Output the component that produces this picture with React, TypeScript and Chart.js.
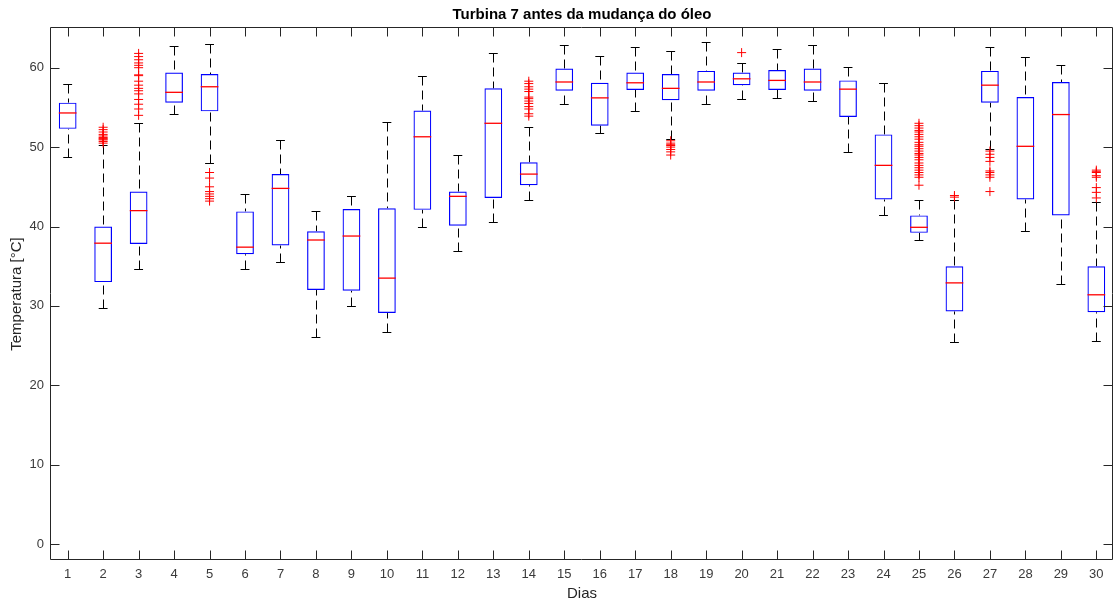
import React, { useEffect, useRef } from 'react';
import { Chart, registerables } from 'chart.js';

Chart.register(...registerables);

const days = [1, 2, 3, 4, 5, 6, 7, 8, 9, 10, 11, 12, 13, 14, 15, 16, 17, 18, 19, 20, 21, 22, 23, 24, 25, 26, 27, 28, 29, 30];

const whiskerLow = [48.7, 29.7, 34.6, 54.2, 48.0, 34.6, 35.5, 26.1, 30.0, 26.7, 40.0, 36.9, 40.6, 43.4, 55.4, 51.8, 54.6, 51.0, 55.4, 56.1, 56.2, 55.8, 49.4, 41.4, 38.3, 25.4, 49.8, 39.4, 32.7, 25.6];
const q1 = [52.3, 33.0, 37.8, 55.6, 54.5, 36.5, 37.6, 32.0, 31.9, 29.1, 42.1, 40.1, 43.6, 45.2, 57.1, 52.7, 57.2, 55.9, 57.1, 57.8, 57.2, 57.1, 53.8, 43.4, 39.2, 29.3, 55.6, 43.4, 41.4, 29.2];
const median = [54.3, 37.9, 42.0, 56.9, 57.6, 37.4, 44.8, 38.3, 38.8, 33.5, 51.3, 43.8, 53.0, 46.6, 58.2, 56.2, 58.1, 57.4, 58.2, 58.6, 58.4, 58.2, 57.3, 47.7, 39.9, 32.9, 57.8, 50.1, 54.1, 31.4];
const q3 = [55.6, 40.0, 44.4, 59.4, 59.2, 41.9, 46.6, 39.4, 42.2, 42.3, 54.6, 44.4, 57.4, 48.1, 59.9, 58.1, 59.4, 59.2, 59.6, 59.4, 59.7, 59.9, 58.4, 51.6, 41.4, 35.0, 59.6, 56.3, 58.2, 35.0];
const whiskerHigh = [58.0, 50.3, 53.0, 62.7, 63.0, 44.1, 50.9, 41.9, 43.8, 53.1, 58.9, 49.0, 61.9, 52.5, 62.8, 61.5, 62.6, 62.1, 63.2, 60.6, 62.3, 62.8, 60.1, 58.1, 43.4, 43.4, 62.6, 61.3, 60.3, 43.1];

const outliers: number[][] = [
  [],
  [50.5, 50.7, 50.9, 51.0, 51.1, 51.2, 51.4, 51.6, 51.9, 52.2, 52.5],
  [54.0, 54.8, 55.4, 56.0, 56.7, 57.1, 57.4, 57.8, 58.3, 59.0, 59.1, 60.0, 60.3, 60.6, 61.0, 61.4, 61.8],
  [],
  [43.2, 43.5, 43.8, 44.1, 44.4, 45.0, 46.1, 46.8],
  [],
  [],
  [],
  [],
  [],
  [],
  [],
  [],
  [53.9, 54.2, 54.8, 55.1, 55.5, 55.8, 56.1, 56.3, 57.0, 57.3, 57.6, 58.0, 58.3],
  [],
  [],
  [],
  [49.0, 49.4, 49.7, 50.0, 50.2, 50.3, 50.5, 50.8],
  [],
  [61.9],
  [],
  [],
  [],
  [],
  [45.2, 46.2, 46.5, 46.8, 47.1, 47.4, 47.7, 48.0, 48.4, 48.7, 49.0, 49.2, 49.5, 49.8, 50.1, 50.3, 50.6, 51.0, 51.3, 51.6, 51.9, 52.1, 52.4, 52.7, 53.0],
  [43.7, 43.9],
  [44.4, 46.2, 46.5, 46.8, 47.0, 48.2, 48.7, 49.1, 49.5],
  [],
  [],
  [43.6, 44.3, 44.9, 46.2, 46.4, 46.8, 46.9, 47.1],
];

const yTicks = [0, 10, 20, 30, 40, 50, 60];
const xTicks = days;

const chartTitle = 'Turbina 7 antes da mudança do óleo';
const xTitle = 'Dias';
const yTitle = 'Temperatura [°C]';

const FONT = "'Liberation Sans', Arial, Helvetica, sans-serif";
const AXIS_COLOR = '#262626';
const LABEL_COLOR = '#3a3a3a';

const boxPlugin = {
  id: 'boxExtras',
  beforeDatasetsDraw(chart: any) {
    const { ctx } = chart;
    const x = chart.scales.x;
    const y = chart.scales.y;
    ctx.save();
    ctx.strokeStyle = '#000000';
    ctx.lineWidth = 1;
    days.forEach((d, i) => {
      const px = Math.round(x.getPixelForValue(d)) + 0.5;
      const yq1 = y.getPixelForValue(q1[i]);
      const yq3 = y.getPixelForValue(q3[i]);
      const ylo = Math.round(y.getPixelForValue(whiskerLow[i])) + 0.5;
      const yhi = Math.round(y.getPixelForValue(whiskerHigh[i])) + 0.5;
      ctx.setLineDash([9, 5]);
      ctx.beginPath();
      ctx.moveTo(px, yhi);
      ctx.lineTo(px, yq3);
      ctx.moveTo(px, ylo);
      ctx.lineTo(px, yq1);
      ctx.stroke();
      ctx.setLineDash([]);
      const xl = x.getPixelForValue(d - 0.125);
      const xr = x.getPixelForValue(d + 0.125);
      ctx.beginPath();
      ctx.moveTo(xl, yhi);
      ctx.lineTo(xr, yhi);
      ctx.moveTo(xl, ylo);
      ctx.lineTo(xr, ylo);
      ctx.stroke();
    });
    ctx.restore();
  },
  afterDatasetsDraw(chart: any) {
    const { ctx } = chart;
    const x = chart.scales.x;
    const y = chart.scales.y;
    ctx.save();
    ctx.strokeStyle = '#ff0000';
    ctx.lineWidth = 1.3;
    days.forEach((d, i) => {
      const ym = y.getPixelForValue(median[i]);
      ctx.beginPath();
      ctx.moveTo(x.getPixelForValue(d - 0.25), ym);
      ctx.lineTo(x.getPixelForValue(d + 0.25), ym);
      ctx.stroke();
    });
    ctx.restore();
  },
  afterDraw(chart: any) {
    const { ctx, chartArea } = chart;
    const x = chart.scales.x;
    const y = chart.scales.y;
    const L = Math.floor(chartArea.left) - 0.5;
    const R = Math.floor(chartArea.right) - 0.5;
    const T = Math.floor(chartArea.top) - 0.5;
    const B = Math.floor(chartArea.bottom) - 0.5;
    const tl = 9;
    ctx.save();
    ctx.strokeStyle = AXIS_COLOR;
    ctx.lineWidth = 1;
    ctx.beginPath();
    ctx.rect(L, T, R - L, B - T);
    yTicks.forEach((v) => {
      const py = Math.round(y.getPixelForValue(v)) + 0.5;
      ctx.moveTo(L, py);
      ctx.lineTo(L + tl, py);
      ctx.moveTo(R, py);
      ctx.lineTo(R - tl, py);
    });
    xTicks.forEach((v) => {
      const px = Math.round(x.getPixelForValue(v)) + 0.5;
      ctx.moveTo(px, B);
      ctx.lineTo(px, B - tl);
      ctx.moveTo(px, T);
      ctx.lineTo(px, T + tl);
    });
    ctx.stroke();
    ctx.restore();
  },
};

export default function App() {
  const canvasRef = useRef<HTMLCanvasElement | null>(null);

  useEffect(() => {
    const canvas = canvasRef.current;
    if (!canvas) return;

    const boxData = days.map((d, i) => ({ x: d, y: [q1[i], q3[i]] }));
    const outlierData: { x: number; y: number }[] = [];
    outliers.forEach((list, i) => {
      list.forEach((v) => outlierData.push({ x: days[i], y: v }));
    });

    const chart = new Chart(canvas, {
      type: 'bar',
      data: {
        datasets: [
          {
            type: 'bar',
            data: boxData as any,
            backgroundColor: 'rgba(0,0,0,0)',
            borderColor: '#0000ff',
            borderWidth: 1.2,
            borderSkipped: false,
            categoryPercentage: 1,
            barPercentage: 0.5,
            grouped: false,
          } as any,
          {
            type: 'scatter',
            data: outlierData as any,
            pointStyle: 'cross',
            pointRadius: 4.5,
            pointBorderColor: '#ff0000',
            pointBackgroundColor: '#ff0000',
            pointBorderWidth: 1,
            showLine: false,
            clip: false,
          } as any,
        ],
      },
      options: {
        responsive: false,
        animation: false,
        events: [],
        devicePixelRatio: 1,
        layout: { autoPadding: false, padding: { left: 0, right: 1, top: 0, bottom: 0 } },
        plugins: {
          legend: { display: false },
          tooltip: { enabled: false },
          title: {
            display: true,
            fullSize: false,
            text: chartTitle,
            color: '#000000',
            font: { family: FONT, size: 15, weight: 'bold' },
            padding: { top: 5.5, bottom: 4.5 },
          },
        },
        scales: {
          x: {
            type: 'linear',
            min: 0.53,
            max: 30.47,
            offset: false,
            grid: { display: false, drawTicks: false },
            border: { display: false },
            ticks: {
              padding: 7,
              color: LABEL_COLOR,
              font: { family: FONT, size: 13 },
              autoSkip: false,
              maxRotation: 0,
            },
            afterBuildTicks: (s: any) => {
              s.ticks = xTicks.map((v) => ({ value: v }));
            },
            afterFit: (s: any) => {
              s.height = 45;
              s.paddingLeft = 0;
              s.paddingRight = 0;
            },
            title: {
              display: true,
              text: xTitle,
              color: AXIS_COLOR,
              font: { family: FONT, size: 15 },
              padding: { top: 0, bottom: 2 },
            },
          },
          y: {
            type: 'linear',
            min: -2,
            max: 65,
            grid: { display: false, drawTicks: false },
            border: { display: false },
            ticks: {
              padding: 7,
              color: LABEL_COLOR,
              font: { family: FONT, size: 13 },
            },
            afterBuildTicks: (s: any) => {
              s.ticks = yTicks.map((v) => ({ value: v }));
            },
            afterFit: (s: any) => {
              s.width = 51;
              s.paddingTop = 0;
              s.paddingBottom = 0;
            },
            title: {
              display: true,
              text: yTitle,
              color: AXIS_COLOR,
              font: { family: FONT, size: 15 },
              padding: { top: 8, bottom: 0 },
            },
          },
        },
      } as any,
      plugins: [boxPlugin],
    });

    return () => {
      chart.destroy();
    };
  }, []);

  return (
    <div style={{ position: 'absolute', left: 0, top: 0, width: 1114, height: 605, background: '#ffffff' }}>
      <canvas ref={canvasRef} width={1114} height={605} style={{ display: 'block' }} />
    </div>
  );
}
